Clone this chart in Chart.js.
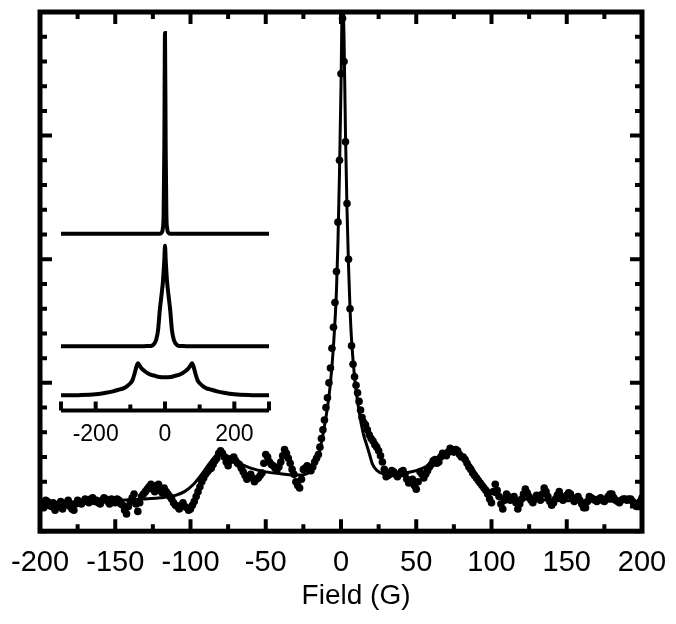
<!DOCTYPE html>
<html>
<head>
<meta charset="utf-8">
<script src="https://cdn.jsdelivr.net/npm/chart.js@4.4.1/dist/chart.umd.min.js"></script>
<style>
html, body { margin: 0; padding: 0; background: #fff; }
#wrap { position: relative; width: 676px; height: 624px; }
#mainChart { position: absolute; left: 0; top: 0; }
#insetChart { position: absolute; left: 40px; top: 15px; }
</style>
</head>
<body>
<div id="wrap">
  <canvas id="mainChart" width="676" height="624"></canvas>
  <canvas id="insetChart" width="250" height="443"></canvas>
</div>
<script>
// measured spectrum (dots)
const fieldData = [
  -200, -198.75, -197.5, -196.25, -195, -193.75, -192.5, -191.25,
  -190, -188.75, -187.5, -186.25, -185, -183.75, -182.5, -181.25,
  -180, -178.75, -177.5, -176.25, -175, -173.75, -172.5, -171.25,
  -170, -168.75, -167.5, -166.25, -165, -163.75, -162.5, -161.25,
  -160, -158.75, -157.5, -156.25, -155, -153.75, -152.5, -151.25,
  -150, -148.75, -147.5, -146.25, -145, -143.75, -142.5, -141.25,
  -140, -138.75, -137.5, -136.25, -135, -133.75, -132.5, -131.25,
  -130, -128.75, -127.5, -126.25, -125, -123.75, -122.5, -121.25,
  -120, -118.75, -117.5, -116.25, -115, -113.75, -112.5, -111.25,
  -110, -108.75, -107.5, -106.25, -105, -103.75, -102.5, -101.25,
  -100, -98.75, -97.5, -96.25, -95, -93.75, -92.5, -91.25,
  -90, -88.75, -87.5, -86.25, -85, -83.75, -82.5, -81.25,
  -80, -78.75, -77.5, -76.25, -75, -73.75, -72.5, -71.25,
  -70, -68.75, -67.5, -66.25, -65, -63.75, -62.5, -61.25,
  -60, -58.75, -57.5, -56.25, -55, -53.75, -52.5, -51.25,
  -50, -48.75, -47.5, -46.25, -45, -43.75, -42.5, -41.25,
  -40, -38.75, -37.5, -36.25, -35, -33.75, -32.5, -31.25,
  -30, -28.75, -27.5, -26.25, -25, -23.75, -22.5, -21.25,
  -20, -18.75, -17.5, -16.25,
  -15, -14, -13, -12, -11, -10, -9, -8, -7, -6, -5, -4, -3, -2, -1,
  0, 1, 2, 3, 4, 5, 6, 7, 8, 9, 10, 11, 12, 13, 14, 15,
  16.25, 17.5, 18.75, 20, 21.25, 22.5, 23.75, 25,
  26.25, 27.5, 28.75, 30, 31.25, 32.5, 33.75, 35,
  36.25, 37.5, 38.75, 40, 41.25, 42.5, 43.75, 45,
  46.25, 47.5, 48.75, 50, 51.25, 52.5, 53.75, 55,
  56.25, 57.5, 58.75, 60, 61.25, 62.5, 63.75, 65,
  66.25, 67.5, 68.75, 70, 71.25, 72.5, 73.75, 75,
  76.25, 77.5, 78.75, 80, 81.25, 82.5, 83.75, 85,
  86.25, 87.5, 88.75, 90, 91.25, 92.5, 93.75, 95,
  96.25, 97.5, 98.75, 100, 101.25, 102.5, 103.75, 105,
  106.25, 107.5, 108.75, 110, 111.25, 112.5, 113.75, 115,
  116.25, 117.5, 118.75, 120, 121.25, 122.5, 123.75, 125,
  126.25, 127.5, 128.75, 130, 131.25, 132.5, 133.75, 135,
  136.25, 137.5, 138.75, 140, 141.25, 142.5, 143.75, 145,
  146.25, 147.5, 148.75, 150, 151.25, 152.5, 153.75, 155,
  156.25, 157.5, 158.75, 160, 161.25, 162.5, 163.75, 165,
  166.25, 167.5, 168.75, 170, 171.25, 172.5, 173.75, 175,
  176.25, 177.5, 178.75, 180, 181.25, 182.5, 183.75, 185,
  186.25, 187.5, 188.75, 190, 191.25, 192.5, 193.75, 195,
  196.25, 197.5, 198.75, 200
];
const signalData = [
  0.03, 0.0, -0.01, 0.05, 0.04, 0.01, 0.0, 0.03,
  -0.03, 0.0, 0.02, 0.04, -0.02, 0.01, 0.03, 0.05,
  0.0, -0.02, -0.03, 0.02, 0.05, 0.03, 0.02, 0.04,
  0.06, 0.04, 0.03, 0.06, 0.07, 0.04, 0.05, 0.03,
  0.02, 0.05, 0.07, 0.06, 0.04, 0.02, 0.06, 0.05,
  0.03, 0.06, 0.05, 0.02, 0.01, -0.03, -0.06, 0.0,
  0.04, 0.07, 0.1, 0.02, -0.04, 0.03, 0.08, 0.1,
  0.12, 0.14, 0.16, 0.18, 0.14, 0.12, 0.17, 0.18,
  0.13, 0.11, 0.15, 0.12, 0.1, 0.08, 0.06, 0.03,
  0.01, 0.0, -0.02, 0.01, 0.03, 0.0, -0.01, -0.03,
  -0.02, 0.01, 0.04, 0.08, 0.12, 0.16, 0.2, 0.23,
  0.26, 0.28, 0.3, 0.31, 0.34, 0.37, 0.39, 0.43,
  0.45, 0.43, 0.4, 0.36, 0.33, 0.37, 0.39, 0.4,
  0.37, 0.35, 0.34, 0.31, 0.28, 0.25, 0.22, 0.24,
  0.26, 0.23, 0.2, 0.22, 0.23, 0.25, 0.27, 0.35,
  0.42, 0.4, 0.36, 0.34, 0.33, 0.31, 0.3, 0.32,
  0.36, 0.41, 0.46, 0.43, 0.39, 0.35, 0.3, 0.26,
  0.2, 0.17, 0.15, 0.22, 0.3, 0.31, 0.33, 0.31,
  0.29, 0.32, 0.36, 0.39,
  0.42, 0.48, 0.55, 0.62, 0.7, 0.8, 0.88, 1.0, 1.12, 1.28, 1.45, 1.65, 1.9, 2.3, 2.8,
  3.5, 3.95, 3.6, 2.95, 2.45, 2.0, 1.6, 1.3, 1.15, 1.05, 0.98, 0.92, 0.85, 0.78, 0.72, 0.68,
  0.66, 0.62, 0.58, 0.55, 0.53, 0.5, 0.48, 0.45,
  0.41, 0.36, 0.3, 0.24, 0.25, 0.26, 0.29, 0.28,
  0.26, 0.24, 0.26, 0.28, 0.29, 0.26, 0.22, 0.19,
  0.2, 0.22, 0.17, 0.14, 0.2, 0.28, 0.26, 0.23,
  0.26, 0.29, 0.32, 0.34, 0.37, 0.38, 0.35, 0.36,
  0.4, 0.43, 0.42, 0.41, 0.44, 0.47, 0.46, 0.44,
  0.46, 0.45, 0.42, 0.4, 0.4, 0.38, 0.35, 0.32,
  0.3, 0.27, 0.25, 0.23, 0.21, 0.19, 0.17, 0.15,
  0.13, 0.1, 0.06, 0.03, 0.12, 0.18, 0.13, 0.08,
  0.02, -0.02, 0.05, 0.1, 0.08, 0.05, 0.07, 0.08,
  0.03, -0.02, 0.02, 0.06, 0.1, 0.14, 0.11, 0.08,
  0.05, 0.03, 0.06, 0.09, 0.07, 0.05, 0.1, 0.15,
  0.12, 0.08, 0.04, 0.01, 0.03, 0.06, 0.09, 0.12,
  0.08, 0.05, 0.07, 0.09, 0.11, 0.1, 0.07, 0.04,
  0.06, 0.08, 0.05, 0.02, -0.01, -0.01, 0.04, 0.08,
  0.07, 0.06, 0.05, 0.04, 0.06, 0.07, 0.05, 0.04,
  0.06, 0.08, 0.1, 0.1, 0.07, 0.05, 0.04, 0.03,
  0.05, 0.06, 0.06, 0.05, 0.06, 0.06, 0.04, 0.02,
  0.0, 0.0, 0.04, 0.07
];

// simulated fit (solid line)
const fitField = [
  -200, -170, -140, -120, -110, -104, -98, -92, -86, -82,
  -78, -72, -66, -60, -50, -40, -32, -26, -22, -19,
  -17, -15, -13, -11, -9, -7, -5, -3, -2, -1,
  0, 1, 2, 3, 4, 5, 6, 7, 9, 11,
  13, 15, 17, 19, 21, 24, 28, 35, 42, 50,
  58, 65, 71, 76, 80, 85, 90, 95, 100, 106,
  115, 130, 160, 200
];
const fitSignal = [
  0.03, 0.04, 0.055, 0.07, 0.09, 0.12, 0.18, 0.27, 0.37, 0.42,
  0.42, 0.38, 0.34, 0.31, 0.28, 0.265, 0.255, 0.255, 0.27, 0.3,
  0.35, 0.42, 0.52, 0.65, 0.8, 1.0, 1.3, 1.75, 2.15, 2.7,
  3.4, 4.15, 3.8, 3.0, 2.4, 1.95, 1.6, 1.35, 1.05, 0.85,
  0.7, 0.58, 0.5, 0.42, 0.34, 0.29, 0.265, 0.26, 0.27, 0.29,
  0.33, 0.38, 0.42, 0.43, 0.41, 0.35, 0.26, 0.17, 0.11, 0.08,
  0.065, 0.055, 0.045, 0.04
];

const xTickLabels = [-200, -150, -100, -50, 0, 50, 100, 150, 200];

// inset: three simulated traces, stacked
const insetField = [
  -300, -250, -200, -170, -150, -130, -120, -110, -100, -94,
  -90, -86, -82, -78, -74, -68, -60, -50, -40, -35,
  -30, -25, -20, -15, -10, -6, -4, -2, 0, 2,
  4, 6, 10, 15, 20, 25, 30, 35, 40, 50,
  60, 68, 74, 78, 82, 86, 90, 94, 100, 110,
  120, 130, 150, 170, 200, 250, 300
];
const insetNarrow = [
  17.6, 17.6, 17.6, 17.6, 17.6, 17.6, 17.6, 17.6, 17.6, 17.6,
  17.6, 17.6, 17.6, 17.6, 17.6, 17.6, 17.6, 17.6, 17.6, 17.6,
  17.6, 17.6, 17.6, 17.6, 17.7, 18.2, 19.5, 26, 37.6, 26,
  19.5, 18.2, 17.7, 17.6, 17.6, 17.6, 17.6, 17.6, 17.6, 17.6,
  17.6, 17.6, 17.6, 17.6, 17.6, 17.6, 17.6, 17.6, 17.6, 17.6,
  17.6, 17.6, 17.6, 17.6, 17.6, 17.6, 17.6
];
const insetMedium = [
  6.4, 6.4, 6.4, 6.4, 6.4, 6.4, 6.4, 6.4, 6.4, 6.4,
  6.4, 6.4, 6.4, 6.4, 6.4, 6.4, 6.4, 6.41, 6.42, 6.5,
  6.7, 7.1, 8.0, 10.0, 11.5, 12.8, 13.8, 15.0, 16.4, 15.0,
  13.8, 12.8, 11.5, 10.0, 8.0, 7.1, 6.7, 6.5, 6.42, 6.41,
  6.4, 6.4, 6.4, 6.4, 6.4, 6.4, 6.4, 6.4, 6.4, 6.4,
  6.4, 6.4, 6.4, 6.4, 6.4, 6.4, 6.4
];
const insetPowder = [
  1.5, 1.52, 1.6, 1.75, 1.9, 2.1, 2.2, 2.4, 2.7, 3.0,
  3.4, 3.9, 4.4, 4.7, 4.5, 4.2, 3.95, 3.7, 3.55, 3.5,
  3.45, 3.4, 3.36, 3.33, 3.31, 3.3, 3.3, 3.3, 3.3, 3.3,
  3.3, 3.3, 3.31, 3.33, 3.36, 3.4, 3.45, 3.5, 3.55, 3.7,
  3.95, 4.2, 4.5, 4.7, 4.4, 3.9, 3.4, 3.0, 2.7, 2.4,
  2.2, 2.1, 1.9, 1.75, 1.6, 1.52, 1.5
];
const insetTickLabels = [-200, 0, 200];

const fontFamily = "'Liberation Sans', Arial, Helvetica, sans-serif";

function toPoints(xs, ys) {
  return xs.map((x, i) => ({ x: x, y: ys[i] }));
}

// frame + inward ticks on all four sides
const frameTicks = {
  id: 'frameTicks',
  afterDraw(chart) {
    const ctx = chart.ctx;
    const a = chart.chartArea;
    const xs = chart.scales.x, ys = chart.scales.y;
    ctx.save();
    ctx.strokeStyle = '#000';
    ctx.lineWidth = 4;
    ctx.beginPath();
    xs.ticks.forEach(t => {
      const px = xs.getPixelForValue(t.value);
      const len = xTickLabels.includes(t.value) ? 12 : 7;
      ctx.moveTo(px, a.bottom); ctx.lineTo(px, a.bottom - len);
      ctx.moveTo(px, a.top); ctx.lineTo(px, a.top + len);
    });
    ys.ticks.forEach(t => {
      const py = ys.getPixelForValue(t.value);
      const major = Math.abs(t.value - Math.round(t.value)) < 1e-6;
      const len = major ? 12 : 7;
      ctx.moveTo(a.left, py); ctx.lineTo(a.left + len, py);
      ctx.moveTo(a.right, py); ctx.lineTo(a.right - len, py);
    });
    ctx.stroke();
    ctx.lineWidth = 5;
    ctx.strokeRect(a.left, a.top, a.right - a.left, a.bottom - a.top);
    // axis title
    ctx.fillStyle = '#000';
    ctx.font = '28px ' + fontFamily;
    ctx.textAlign = 'center';
    ctx.textBaseline = 'middle';
    ctx.fillText('Field (G)', xs.getPixelForValue(10), 596);
    ctx.restore();
  }
};

new Chart(document.getElementById('mainChart'), {
  type: 'scatter',
  data: {
    datasets: [
      {
        label: 'data',
        data: toPoints(fieldData, signalData),
        showLine: false,
        pointRadius: 3.8,
        pointBorderWidth: 0,
        pointBackgroundColor: '#000',
        borderColor: '#000'
      },
      {
        label: 'fit',
        data: toPoints(fitField, fitSignal),
        showLine: true,
        pointRadius: 0,
        borderColor: '#000',
        borderWidth: 3,
        cubicInterpolationMode: 'monotone'
      }
    ]
  },
  options: {
    responsive: false,
    animation: false,
    layout: { padding: { left: 40, right: 34, top: 12, bottom: 30 } },
    plugins: { legend: { display: false }, tooltip: { enabled: false } },
    scales: {
      x: {
        type: 'linear',
        min: -200,
        max: 200,
        grid: { display: false, drawTicks: false },
        border: { display: false },
        afterFit: s => { s.paddingLeft = 0; s.paddingRight = 0; },
        ticks: {
          stepSize: 25,
          autoSkip: false,
          maxRotation: 0,
          padding: 14,
          color: '#000',
          font: { family: fontFamily, size: 29 },
          callback: v => xTickLabels.includes(v) ? String(v) : ''
        }
      },
      y: {
        type: 'linear',
        min: -0.2,
        max: 4.0,
        grid: { display: false, drawTicks: false },
        border: { display: false },
        ticks: { stepSize: 0.2, display: false }
      }
    }
  },
  plugins: [frameTicks]
});

// inset axis: line with upward ticks
const insetAxis = {
  id: 'insetAxis',
  afterDraw(chart) {
    const ctx = chart.ctx;
    const a = chart.chartArea;
    const xs = chart.scales.x;
    ctx.save();
    ctx.strokeStyle = '#000';
    ctx.lineWidth = 4;
    ctx.beginPath();
    ctx.moveTo(a.left, a.bottom); ctx.lineTo(a.right, a.bottom);
    xs.ticks.forEach(t => {
      const px = xs.getPixelForValue(t.value);
      const len = Math.abs(t.value) === 100 ? 6 : 9;
      ctx.moveTo(px, a.bottom); ctx.lineTo(px, a.bottom - len);
    });
    ctx.stroke();
    ctx.restore();
  }
};

const insetLine = (label, ys) => ({
  label: label,
  data: toPoints(insetField, ys),
  showLine: true,
  pointRadius: 0,
  borderColor: '#000',
  borderWidth: 4,
  cubicInterpolationMode: 'monotone'
});

new Chart(document.getElementById('insetChart'), {
  type: 'scatter',
  data: {
    datasets: [
      insetLine('narrow', insetNarrow),
      insetLine('medium', insetMedium),
      insetLine('powder', insetPowder)
    ]
  },
  options: {
    responsive: false,
    animation: false,
    layout: { padding: { left: 21, right: 21, top: 5, bottom: 0 } },
    plugins: { legend: { display: false }, tooltip: { enabled: false } },
    scales: {
      x: {
        type: 'linear',
        min: -300,
        max: 300,
        grid: { display: false, drawTicks: false },
        border: { display: false },
        afterFit: s => { s.paddingLeft = 0; s.paddingRight = 0; },
        ticks: {
          stepSize: 100,
          autoSkip: false,
          maxRotation: 0,
          padding: 10,
          color: '#000',
          font: { family: fontFamily, size: 23 },
          callback: v => insetTickLabels.includes(v) ? String(v) : ''
        }
      },
      y: { type: 'linear', min: 0, max: 38.9, display: false }
    }
  },
  plugins: [insetAxis]
});
</script>
</body>
</html>
